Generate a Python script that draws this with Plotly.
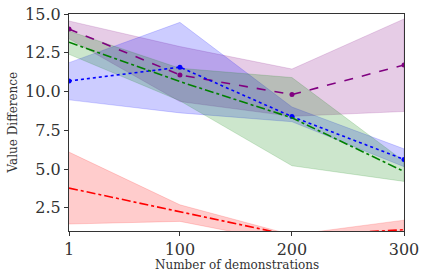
import plotly.graph_objects as go

x = [1, 100, 200, 300]

purple_mean = [14.03, 11.07, 9.8, 11.71]
purple_up = [14.55, 12.9, 11.45, 14.68]
purple_lo = [13.4, 9.35, 8.4, 8.71]

blue_mean = [10.68, 11.57, 8.38, 5.62]
blue_up = [11.86, 14.46, 9.0, 6.3]
blue_lo = [9.46, 8.62, 8.05, 5.15]

green_mean = [13.18, 10.64, 8.3, 4.84]
green_up = [13.9, 11.5, 10.9, 5.5]
green_lo = [12.4, 9.4, 5.21, 4.2]

red_mean = [3.77, 2.26, 0.7, 1.08]
red_up = [6.09, 2.69, 0.75, 1.7]
red_lo = [1.45, 1.62, 0.2, 0.5]

x_ticks = [1, 100, 200, 300]
y_ticks = [2.5, 5.0, 7.5, 10.0, 12.5, 15.0]

series = [
    ("purple", "rgba(128,0,128,0.2)", purple_mean, purple_up, purple_lo, "dash", True),
    ("blue", "rgba(0,0,255,0.2)", blue_mean, blue_up, blue_lo, "dot", True),
    ("green", "rgba(0,128,0,0.2)", green_mean, green_up, green_lo, "dashdot", False),
    ("red", "rgba(255,0,0,0.2)", red_mean, red_up, red_lo, "dashdot", False),
]

fig = go.Figure()
for color, fillc, m, up, lo, dash, mk in series:
    fig.add_trace(go.Scatter(
        x=x + x[::-1], y=up + lo[::-1], fill="toself", fillcolor=fillc,
        line=dict(width=0.8, color=fillc), mode="lines", showlegend=False, hoverinfo="skip"))
for color, fillc, m, up, lo, dash, mk in series:
    fig.add_trace(go.Scatter(
        x=x, y=m, mode="lines+markers" if mk else "lines",
        line=dict(color=color, width=1.6, dash=dash),
        marker=dict(size=5, color=color), showlegend=False))

font_family = "DejaVu Serif"
txt = "#333333"
fig.update_layout(
    width=424, height=279,
    margin=dict(l=69, r=20, t=14, b=48, autoexpand=False),
    plot_bgcolor="white", paper_bgcolor="white",
    font=dict(family=font_family, color=txt),
    xaxis=dict(
        range=[1, 300], tickvals=x_ticks, ticktext=[str(v) for v in x_ticks],
        showgrid=False, zeroline=False, showline=True, mirror=True, automargin=False,
        linecolor=txt, linewidth=1.2, ticks="outside", ticklen=4, tickcolor=txt,
        tickfont=dict(size=16, family=font_family, color=txt), ticklabeloverflow="allow",
    ),
    yaxis=dict(
        range=[1, 15], tickvals=y_ticks, ticktext=[f"{v:.1f}" for v in y_ticks],
        showgrid=False, zeroline=False, showline=True, mirror=True, automargin=False,
        linecolor=txt, linewidth=1.2, ticks="outside", ticklen=4, tickcolor=txt,
        tickfont=dict(size=16, family=font_family, color=txt), ticklabeloverflow="allow",
    ),
    annotations=[
        dict(text="Number of demonstrations", xref="paper", yref="paper",
             x=0.5, y=-34 / 217, xanchor="center", yanchor="middle", showarrow=False,
             font=dict(size=12, family=font_family, color=txt)),
        dict(text="Value Difference", xref="paper", yref="paper",
             x=(12 - 69) / 335, y=0.5, xanchor="center", yanchor="middle", showarrow=False,
             textangle=-90, font=dict(size=12, family=font_family, color=txt)),
    ],
)
# remove the page's default body margin so the figure fills the window exactly
fig.write_html("out.html", config={"displayModeBar": False},
               post_script="document.body.style.margin='0';document.body.style.overflow='hidden';")
